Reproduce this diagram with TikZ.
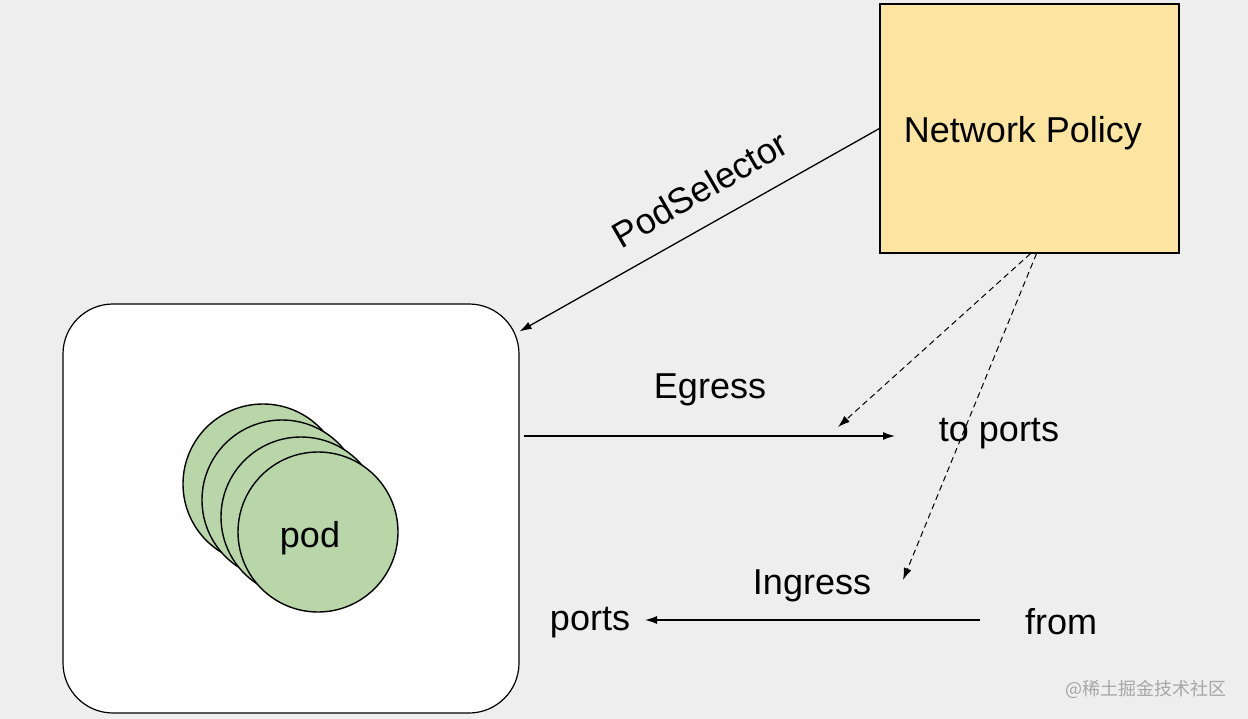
\documentclass[tikz,border=0pt]{standalone}
\usepackage{fontspec}
\setmainfont{Liberation Sans}
\newfontfamily\cjk{Noto Sans CJK SC}
\usetikzlibrary{arrows.meta}
\definecolor{bg}{HTML}{EEEEEE}
\definecolor{policyfill}{HTML}{FCE5A1}
\definecolor{podfill}{HTML}{B9D6A9}
\begin{document}
\begin{tikzpicture}[>={Latex[length=12pt,width=8pt]},x=1pt,y=-1pt,
  every node/.style={font=\fontsize{36}{43}\selectfont},
  flow/.style={->,line width=1.3pt},
  hint/.style={->,dash pattern=on 6pt off 4pt,line width=1pt},
  podball/.style={circle,draw,line width=1.4pt,fill=podfill,minimum size=160pt,inner sep=0pt}]
  \fill[bg] (0,0) rectangle (1248,719);
  % boxes
  \node[draw,line width=1.2pt,fill=policyfill,minimum width=299pt,minimum height=249pt,inner sep=0pt] (policy) at (1029.5,128.5) {};
  \node (policytext) at (1023,133) {Network Policy};
  \node[draw,line width=1.2pt,fill=white,rounded corners=50pt,minimum width=456pt,minimum height=409pt,inner sep=0pt] (podbox) at (291,508.5) {};
  \foreach \i/\x/\y in {1/263/484,2/282/500,3/301/517}
    \node[podball] (pod\i) at (\x,\y) {};
  \node[podball] (pod4) at (318,532) {};
  \node (podtext) at ([xshift=-8pt,yshift=-6pt]pod4.center) {pod};
  % labels
  \node[rotate=30] (selector) at (700,189) {PodSelector};
  \node (egress) at (710,390) {Egress};
  \node (toports) at (999,434) {to ports};
  \node (ingress) at (812,586) {Ingress};
  \node (ports) at (590,623) {ports};
  \node (from) at (1061,622) {from};
  % arrows
  \draw[flow] (policy.west) -- ([yshift=-28pt]podbox.north east);
  \coordinate (egressend) at (895,436);
  \draw[flow,shorten <=4pt] (podbox.east |- egressend) -- (egressend);
  \coordinate (ingressstart) at (980,620);
  \coordinate (ingressend) at (645,620);
  \draw[flow] (ingressstart) -- (ingressend);
  \coordinate (tohint) at (838,427);
  \coordinate (fromhint) at (903,580);
  \draw[hint] ([xshift=1pt]policy.south) -- (tohint);
  \draw[hint] ([xshift=7pt]policy.south) -- (fromhint);
  \node[font=\cjk\fontsize{18}{20}\selectfont,text=gray!70] (mark) at (1146,689) {@稀土掘金技术社区};
\end{tikzpicture}
\end{document}
